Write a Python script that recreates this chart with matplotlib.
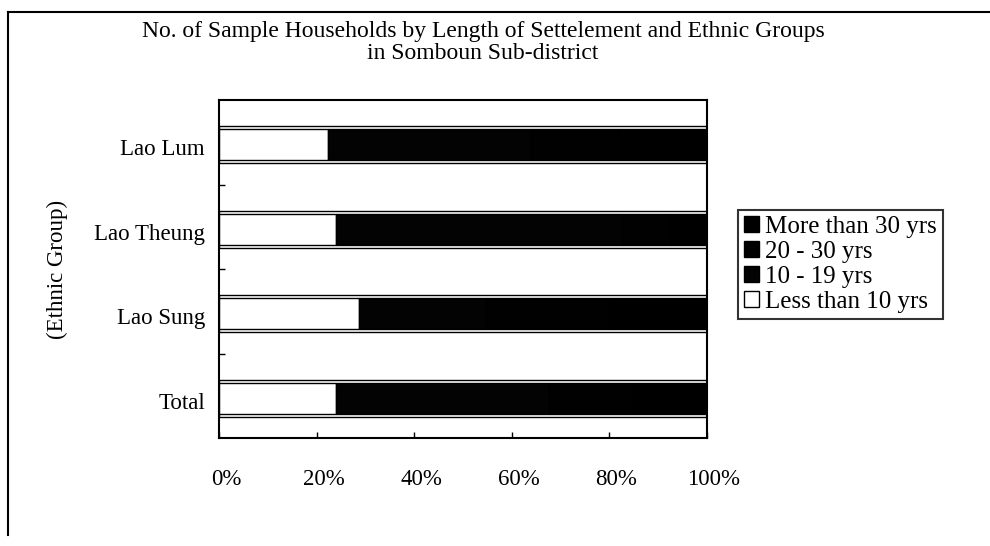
import numpy as np
import matplotlib
matplotlib.use('Agg')
import matplotlib.pyplot as plt
import matplotlib.transforms as mtransforms
from matplotlib.lines import Line2D
from matplotlib.patches import Patch

# ---------- data -------------- #
groups = ['Lao Lum', 'Lao Theung', 'Lao Sung', 'Total']
less_10 = [22.3, 23.9, 28.6, 23.9]
yrs_10_19 = [41.7, 58.7, 26.2, 43.8]
yrs_20_30 = [18.0, 10.0, 25.2, 17.3]
more_30 = [18.0, 7.4, 20.0, 15.0]

series = [('Less than 10 yrs', less_10, '#ffffff'),
          ('10 - 19 yrs', yrs_10_19, '#030303'),
          ('20 - 30 yrs', yrs_20_30, '#010101'),
          ('More than 30 yrs', more_30, '#000000')]

x_ticks = [0, 20, 40, 60, 80, 100]

# ---------- plot settings -------------- #
matplotlib.rc('font', family='Liberation Serif')

fig = plt.figure(figsize=(9.9, 5.46), dpi=100)
fig.patch.set_facecolor('white')
ax = fig.add_axes([0.2212, 0.1978, 0.4929, 0.619])

y = np.arange(len(groups))
totals = np.sum([s[1] for s in series], axis=0)

# outline around each stacked bar
ax.barh(y + 0.03, totals, height=0.44, left=0, fill=False, edgecolor='black', linewidth=1.0, zorder=1)

left = np.zeros(len(groups))
for label, vals, color in series:
    ax.barh(y + 0.03, vals, height=0.37, left=left, color=color, edgecolor='black',
            linewidth=1.0, label=label, zorder=2)
    left += np.array(vals)

ax.set_xlim(0, 100)
ax.set_ylim(len(groups) - 0.5, -0.5)
ax.set_xticks(x_ticks)
ax.set_xticklabels(['%d%%' % t for t in x_ticks], fontsize=16.5)
ax.set_yticks(y + 0.06)
ax.set_yticklabels(groups, fontsize=16.5)
ax.set_yticks(np.arange(0.5, len(groups) - 0.5, 1), minor=True)
ax.tick_params(axis='y', which='major', length=0, pad=10)
ax.tick_params(axis='y', which='minor', direction='in', length=4, width=1)
ax.tick_params(axis='x', direction='in', length=4, width=1, pad=22)
for side in ax.spines.values():
    side.set_linewidth(1.5)

# x labels sit a little right of their ticks
shift = mtransforms.ScaledTranslation(7 / 100, 0, fig.dpi_scale_trans)
for lbl in ax.get_xticklabels():
    lbl.set_transform(lbl.get_transform() + shift)

ax.set_ylabel('(Ethnic Group)', fontsize=16.5)
ax.yaxis.set_label_coords(-0.31, 0.5)

fig.text(0.488, 0.942, 'No. of Sample Households by Length of Settelement and Ethnic Groups',
         ha='center', va='center', fontsize=17)
fig.text(0.488, 0.902, 'in Somboun Sub-district', ha='center', va='center', fontsize=17)

handles = [Patch(facecolor=c, edgecolor='black', label=l) for l, v, c in series][::-1]
leg = ax.legend(handles=handles, loc='upper left', bbox_to_anchor=(1.063, 0.675),
                frameon=True, fancybox=False, edgecolor='black', fontsize=18,
                handlelength=0.6, handleheight=0.6, handletextpad=0.25,
                borderpad=0.25, labelspacing=0.12, borderaxespad=0)
leg.get_frame().set_linewidth(1.5)

# scanned page border (top and left)
fig.add_artist(Line2D([0.008, 1.0], [0.978, 0.978], color='black', linewidth=1.5))
fig.add_artist(Line2D([0.008, 0.008], [0.02, 0.978], color='black', linewidth=1.5))

fig.savefig('out.png', dpi=100)
